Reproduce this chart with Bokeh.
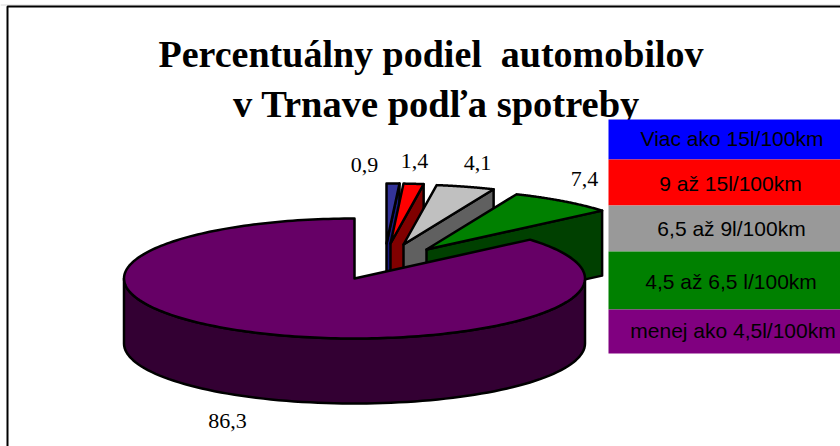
import numpy as np
from bokeh.plotting import figure
from bokeh.models import Range1d
from bokeh.core.properties import value
from bokeh.embed import file_html
from bokeh.resources import INLINE

title_lines = ["Percentuálny podiel \u00a0automobilov", "v Trnave podľa spotreby"]
categories = ["Viac ako 15l/100km", "9 až 15l/100km", "6,5 až 9l/100km",
              "4,5 až 6,5 l/100km", "menej ako 4,5l/100km"]
values = [0.9, 1.4, 4.1, 7.4, 86.3]
value_labels = ["0,9", "1,4", "4,1", "7,4", "86,3"]

top_colors = ["#333399", "#FF0000", "#C0C0C0", "#008000", "#660066"]
side_colors = ["#1A1A80", "#800000", "#606060", "#004000", "#330033"]
legend_colors = ["#0000FF", "#FF0000", "#999999", "#008000", "#800080"]

W, H = 840, 446
CX, CY, A, B, DEPTH = 354, 278, 230.5, 60, 65
LW = 2.5
explode_dx = [32, 36, 49, 72, 0]
explode_dy = [-35, -35, -34, -29, 0]
label_x = [364, 414, 477, 584, 227]
label_y = [164, 160, 162, 178, 420]
legend_edges = [119, 159, 205, 251, 309, 353]
legend_text_x = [731.5, 730, 731, 730.5, 732.5]
legend_text_y = [138, 183, 228, 281, 330]
title_x = [430.5, 436]
title_y = [53, 103]
title_size = ["38px", "38.5px"]

p = figure(width=W, height=H, x_range=Range1d(0, W), y_range=Range1d(H, 0),
           output_backend="svg", toolbar_location=None,
           x_axis_location=None, y_axis_location=None,
           min_border=0, outline_line_color=None)
p.grid.visible = False
p.background_fill_color = "white"
p.border_fill_color = "white"

p.line([0, W], [4.5, 4.5], line_color="#D8D8D8", line_width=1)
p.line([7, 7, W], [H, 6, 6], line_color="black", line_width=2)

fractions = np.cumsum([0] + values) / sum(values)
angles = 2 * np.pi * fractions


def rim(cx, cy, t0, t1, n=90):
    t = np.linspace(t0, t1, n)
    return cx + A * np.sin(t), cy - B * np.cos(t)


for i in range(4):
    ax, ay = CX + explode_dx[i], CY + explode_dy[i]
    t0, t1 = angles[i], angles[i + 1]
    ex, ey = rim(ax, ay, t1, t1, 1)
    p.patch([ax, ex[0], ex[0], ax], [ay, ey[0], ey[0] + DEPTH, ay + DEPTH],
            fill_color=side_colors[i], line_color="black", line_width=LW, line_join="round")
    rx, ry = rim(ax, ay, t0, t1)
    p.patch(np.r_[ax, rx], np.r_[ay, ry], fill_color=top_colors[i],
            line_color="black", line_width=LW, line_join="round")

sx, sy = rim(CX, CY, np.pi / 2, 3 * np.pi / 2)
p.patch(np.r_[sx, sx[::-1]], np.r_[sy, sy[::-1] + DEPTH], fill_color=side_colors[4],
        line_color="black", line_width=LW, line_join="round")
tx, ty = rim(CX, CY, angles[4], angles[5], 240)
p.patch(np.r_[CX, tx], np.r_[CY, ty], fill_color=top_colors[4],
        line_color="black", line_width=LW, line_join="round")

p.text(label_x, label_y, text=value_labels, text_font=value("Liberation Serif"),
       text_font_size="22px", text_color="black", text_align="center", text_baseline="middle")

for tx_, ty_, line, size in zip(title_x, title_y, title_lines, title_size):
    p.text([tx_], [ty_], text=[line], text_font=value("Liberation Serif"),
           text_font_style="bold", text_font_size=size, text_color="black",
           text_align="center", text_baseline="middle")

p.quad(left=608, right=W + 2, top=legend_edges[:-1], bottom=legend_edges[1:],
       fill_color=legend_colors, line_color=None)
p.text(legend_text_x, legend_text_y, text=categories, text_font=value("Liberation Sans"),
       text_font_size="21px", text_color="black", text_align="center", text_baseline="middle")

open("out.html", "w").write(file_html(p, INLINE))
